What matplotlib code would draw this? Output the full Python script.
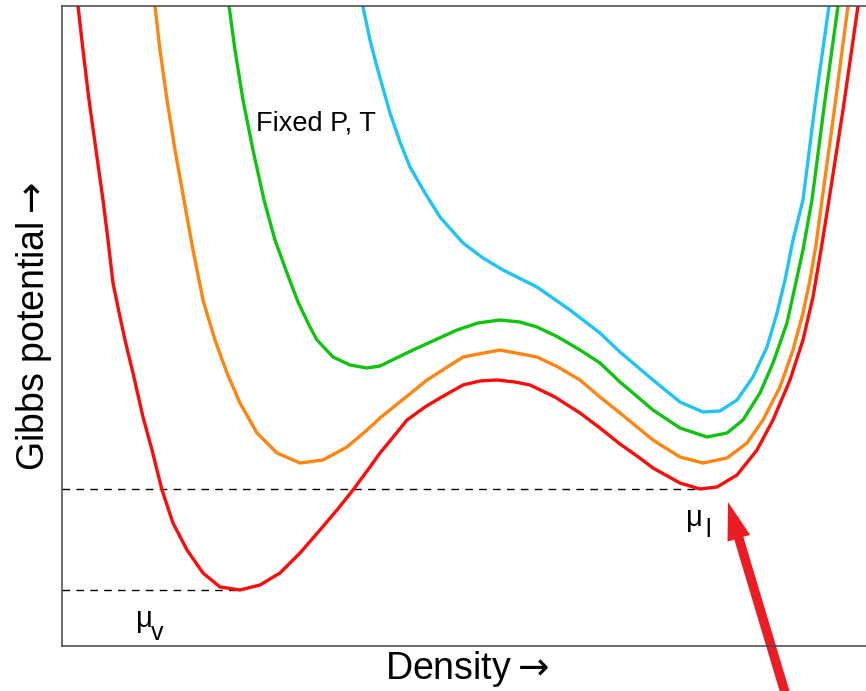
import matplotlib
matplotlib.use('Agg')
import matplotlib.pyplot as plt
from matplotlib.patches import FancyArrowPatch

plt.rcParams['font.family'] = ['Liberation Sans', 'DejaVu Sans']
plt.rcParams['mathtext.fontset'] = 'dejavusans'

# curves (density, Gibbs potential), arbitrary units
red_density = [0.15, 0.16, 0.21, 0.27, 0.34, 0.41, 0.46, 0.51, 0.57, 0.63, 0.71, 0.81, 0.90, 1.00,
               1.11, 1.25, 1.41, 1.58, 1.78, 1.98, 2.18, 2.38, 2.58, 2.75, 2.91, 3.08, 3.18, 3.28,
               3.45, 3.63, 3.78, 4.01, 4.18, 4.35, 4.53, 4.68, 4.93, 5.18, 5.38, 5.58, 5.75, 5.91,
               6.18, 6.38, 6.55, 6.75, 6.95, 7.11, 7.28, 7.41, 7.51, 7.59, 7.67, 7.81, 7.96, 7.98]
red_gibbs = [6.52, 6.40, 5.96, 5.46, 4.96, 4.46, 4.06, 3.63, 3.34, 3.06, 2.73, 2.29, 1.96, 1.56,
             1.23, 0.96, 0.73, 0.59, 0.56, 0.61, 0.73, 0.93, 1.16, 1.36, 1.56, 1.79, 1.93, 2.05,
             2.26, 2.39, 2.48, 2.61, 2.65, 2.66, 2.64, 2.61, 2.49, 2.33, 2.18, 2.02, 1.90, 1.78,
             1.63, 1.57, 1.59, 1.71, 1.96, 2.26, 2.66, 3.06, 3.49, 3.96, 4.46, 5.36, 6.40, 6.52]

orange_density = [0.915, 0.93, 0.98, 1.05, 1.13, 1.22, 1.31, 1.41, 1.53, 1.65, 1.78, 1.95, 2.15,
                  2.38, 2.61, 2.85, 3.05, 3.18, 3.65, 4.01, 4.38, 4.75, 4.96, 5.18, 5.38, 5.58,
                  5.91, 6.18, 6.41, 6.65, 6.85, 7.01, 7.18, 7.31, 7.41, 7.48, 7.54, 7.60, 7.71,
                  7.86, 7.88]
orange_gibbs = [6.52, 6.40, 5.96, 5.46, 4.96, 4.46, 3.96, 3.46, 3.06, 2.73, 2.43, 2.13, 1.93,
                1.83, 1.86, 1.99, 2.16, 2.28, 2.66, 2.89, 2.96, 2.89, 2.79, 2.66, 2.49, 2.33,
                2.06, 1.89, 1.83, 1.88, 2.03, 2.26, 2.59, 2.96, 3.33, 3.66, 4.01, 4.46, 5.26,
                6.40, 6.52]

green_density = [1.65, 1.67, 1.73, 1.81, 1.91, 2.02, 2.13, 2.25, 2.36, 2.48, 2.55, 2.71, 2.88,
                 3.05, 3.18, 3.51, 3.73, 3.95, 4.16, 4.38, 4.58, 4.75, 4.96, 5.18, 5.38, 5.58,
                 5.91, 6.18, 6.45, 6.65, 6.81, 6.98, 7.11, 7.25, 7.34, 7.41, 7.50, 7.63, 7.76,
                 7.78]
green_gibbs = [6.52, 6.40, 5.96, 5.46, 4.96, 4.46, 4.06, 3.73, 3.44, 3.19, 3.06, 2.89, 2.81,
               2.78, 2.80, 2.96, 3.06, 3.16, 3.23, 3.26, 3.24, 3.19, 3.09, 2.96, 2.83, 2.64,
               2.36, 2.18, 2.09, 2.13, 2.26, 2.53, 2.83, 3.23, 3.64, 3.96, 4.46, 5.46, 6.40,
               6.52]

cyan_density = [2.99, 3.01, 3.08, 3.15, 3.28, 3.38, 3.48, 3.63, 3.78, 4.01, 4.21, 4.41, 4.75,
                5.08, 5.38, 5.58, 5.91, 6.18, 6.41, 6.58, 6.75, 6.91, 7.05, 7.15, 7.23, 7.31,
                7.41, 7.53, 7.67, 7.69]
cyan_gibbs = [6.52, 6.39, 6.06, 5.79, 5.33, 5.04, 4.79, 4.53, 4.29, 4.03, 3.88, 3.76, 3.59,
              3.36, 3.13, 2.94, 2.66, 2.44, 2.34, 2.35, 2.46, 2.69, 2.99, 3.33, 3.66, 4.06,
              4.46, 5.41, 6.40, 6.52]

# chemical potentials (minima of the red curve)
mu_l = 1.57
mu_l_density = 6.38
mu_v = 0.56
mu_v_density = 1.78


def main():
    fig = plt.figure(figsize=(8.66, 6.91), dpi=100)
    ax = fig.add_axes([62 / 866, 45 / 691, 810 / 866, 640 / 691])

    ax.plot([0, mu_l_density], [mu_l, mu_l], color='black', lw=1.0, dashes=(5.5, 4.5))
    ax.plot([0, mu_v_density], [mu_v, mu_v], color='black', lw=1.0, dashes=(5.5, 4.5))

    style = dict(lw=2.4, solid_capstyle='round', solid_joinstyle='round')
    ax.plot(cyan_density, cyan_gibbs, color='#1ec3fa', **style)
    ax.plot(green_density, green_gibbs, color='#0fc40f', **style)
    ax.plot(orange_density, orange_gibbs, color='#ff8410', **style)
    ax.plot(red_density, red_gibbs, color='#ff0a0a', **style)

    ax.set_xlim(0, 8.10)
    ax.set_ylim(0, 6.40)
    ax.set_xticks([])
    ax.set_yticks([])
    for side in ['left', 'bottom', 'top']:
        ax.spines[side].set_color('#444444')
        ax.spines[side].set_linewidth(1.1)
    ax.spines['right'].set_visible(False)

    ax.set_xlabel(r'Density$\rightarrow$', fontsize=27, labelpad=2)
    ax.set_ylabel(r'Gibbs potential$\rightarrow$', fontsize=27, labelpad=6)

    ax.text(1.94, 5.23, 'Fixed P, T', fontsize=19.5, ha='left', va='center')
    ax.text(0.82, 0.27, '\u03bc', fontsize=21, ha='center', va='center')
    ax.text(0.95, 0.13, 'v', fontsize=18, ha='center', va='center')
    ax.text(6.32, 1.28, '\u03bc', fontsize=21, ha='center', va='center')
    ax.text(6.46, 1.16, 'l', fontsize=18, ha='center', va='center')

    arrow = FancyArrowPatch(posA=(7.33, -0.80), posB=(6.66, 1.44),
                            arrowstyle='simple,head_length=0.8,head_width=0.5,tail_width=0.2',
                            mutation_scale=34, color='#ec1c24', lw=0,
                            shrinkA=0, shrinkB=0, clip_on=False)
    ax.add_patch(arrow)

    fig.savefig('out.png', dpi=100)
    plt.close(fig)


if __name__ == '__main__':
    main()
